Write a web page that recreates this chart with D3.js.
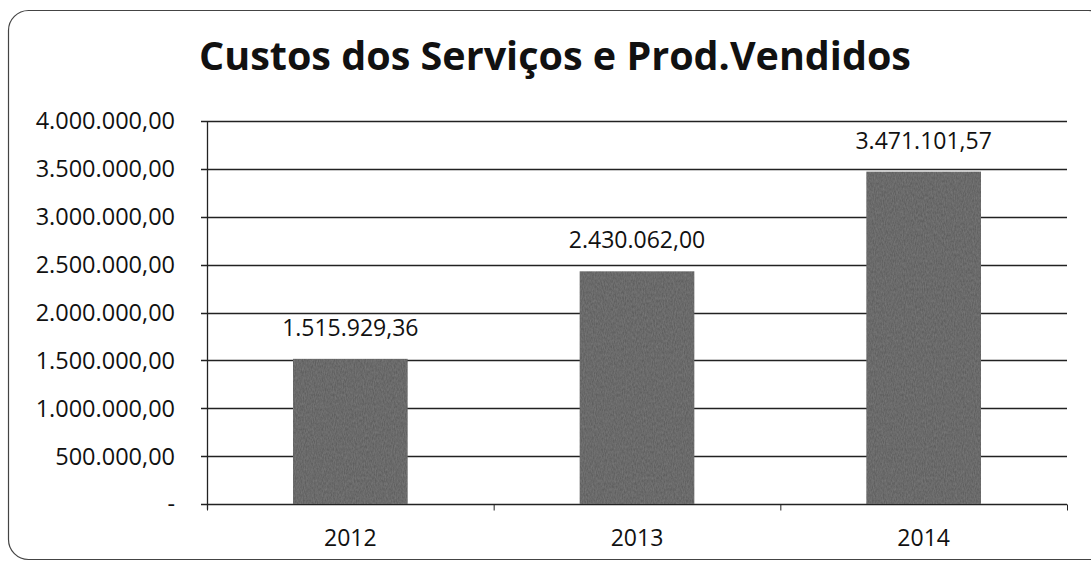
<!DOCTYPE html>
<html>
<head>
<meta charset="utf-8">
<script src="https://cdn.jsdelivr.net/npm/d3@7"></script>
<style>
  body { margin: 0; background: #fff; }
  svg { display: block; }
</style>
</head>
<body>
<div id="chart"></div>
<script>
const years = ['2012', '2013', '2014']
const custos = [1515929.36, 2430062.00, 3471101.57]
const yTicks = [0, 500000, 1000000, 1500000, 2000000, 2500000, 3000000, 3500000, 4000000]
const title = 'Custos dos Serviços e Prod.Vendidos'

const width = 1091
const height = 562
const margin = {top: 121, right: 24, bottom: 58, left: 207}

// pt-BR number format: 1.515.929,36
const ptBR = d3.formatLocale({decimal: ',', thousands: '.', grouping: [3], currency: ['R$', '']})
const fmt = ptBR.format(',.2f')
const tickFmt = d => d === 0 ? '-' : fmt(d)

const svg = d3.create('svg')
  .attr('width', width)
  .attr('height', height)
  .attr('font-family', '"Open Sans", sans-serif')

document.getElementById('chart').appendChild(svg.node())

// texture for the bars
const defs = svg.append('defs')
const filt = defs.append('filter').attr('id', 'grain')
filt.append('feTurbulence')
  .attr('type', 'fractalNoise')
  .attr('baseFrequency', '0.9 0.35')
  .attr('numOctaves', 2)
  .attr('seed', 3)
  .attr('result', 'noise')
filt.append('feColorMatrix')
  .attr('in', 'noise')
  .attr('type', 'matrix')
  .attr('values', '0 0 0 0 0.2  0 0 0 0 0.2  0 0 0 0 0.2  0 0 0 1.2 -0.25')
  .attr('result', 'n2')
filt.append('feComposite')
  .attr('in', 'n2')
  .attr('in2', 'SourceGraphic')
  .attr('operator', 'atop')

// rounded frame
svg.append('rect')
  .attr('x', 8.5).attr('y', 10.5)
  .attr('width', 1100).attr('height', 549)
  .attr('rx', 20)
  .attr('fill', 'none')
  .attr('stroke', '#444')
  .attr('stroke-width', 1.2)

svg.append('text')
  .attr('x', 555)
  .attr('y', 70)
  .attr('text-anchor', 'middle')
  .attr('font-size', 39.5)
  .attr('font-weight', 'bold')
  .attr('fill', '#111')
  .text(title)

const x = d3.scaleBand()
  .domain(years)
  .range([margin.left, width - margin.right])
  .paddingInner(0.6)
  .paddingOuter(0.3)

const y = d3.scaleLinear()
  .domain([0, 4000000])
  .range([height - margin.bottom, margin.top])

// grid lines
svg.append('g')
  .selectAll('line')
  .data(yTicks)
  .join('line')
    .attr('x1', margin.left - 6)
    .attr('x2', width - margin.right)
    .attr('y1', d => Math.round(y(d)) + 0.5)
    .attr('y2', d => Math.round(y(d)) + 0.5)
    .attr('stroke', '#222')
    .attr('stroke-width', 1.3)

// y labels
svg.append('g')
  .selectAll('text')
  .data(yTicks)
  .join('text')
    .attr('x', 175)
    .attr('y', d => y(d))
    .attr('dy', '0.36em')
    .attr('text-anchor', 'end')
    .attr('font-size', 23.5)
    .attr('fill', '#111')
    .text(tickFmt)

// bars
svg.append('g')
  .selectAll('rect')
  .data(custos)
  .join('rect')
    .attr('x', (d, i) => x(years[i]))
    .attr('y', d => y(d))
    .attr('width', x.bandwidth())
    .attr('height', d => y(0) - y(d))
    .attr('fill', '#5f5f5f')
    .attr('filter', 'url(#grain)')

// value labels
svg.append('g')
  .selectAll('text')
  .data(custos)
  .join('text')
    .attr('x', (d, i) => x(years[i]) + x.bandwidth() / 2)
    .attr('y', d => y(d) - 23)
    .attr('text-anchor', 'middle')
    .attr('font-size', 23)
    .attr('fill', '#111')
    .text(fmt)

// axes lines
const y0 = Math.round(y(0)) + 0.5
svg.append('line')
  .attr('x1', margin.left + 0.5).attr('x2', margin.left + 0.5)
  .attr('y1', margin.top).attr('y2', y0 + 5)
  .attr('stroke', '#222')
  .attr('stroke-width', 1.3)

const step = (width - margin.right - margin.left) / years.length
svg.append('g')
  .selectAll('line')
  .data(d3.range(years.length + 1))
  .join('line')
    .attr('x1', i => margin.left + i * step + 0.5)
    .attr('x2', i => margin.left + i * step + 0.5)
    .attr('y1', y0)
    .attr('y2', y0 + 6)
    .attr('stroke', '#222')

// category labels
svg.append('g')
  .selectAll('text')
  .data(years)
  .join('text')
    .attr('x', d => x(d) + x.bandwidth() / 2)
    .attr('y', 546)
    .attr('text-anchor', 'middle')
    .attr('font-size', 23)
    .attr('fill', '#111')
    .text(d => d)
</script>
</body>
</html>
